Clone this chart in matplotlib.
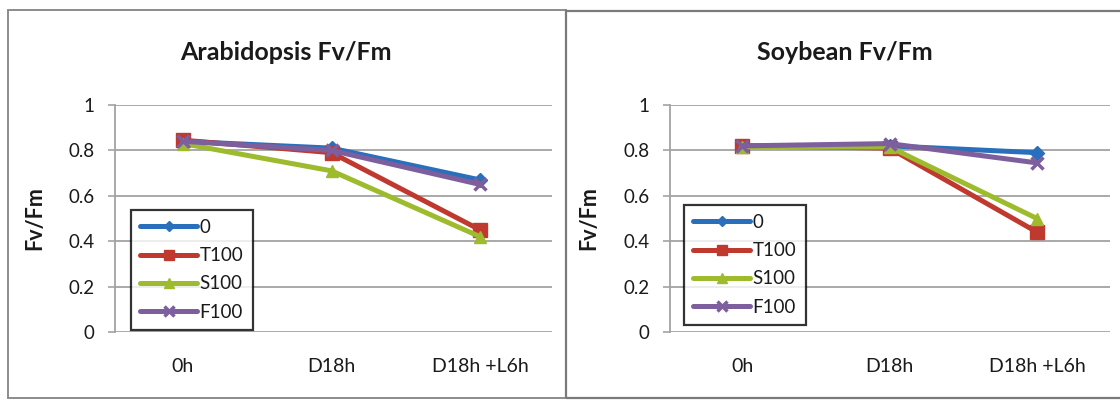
import matplotlib
matplotlib.use("Agg")
import matplotlib.pyplot as plt
from matplotlib.patches import Rectangle

plt.rcParams['font.family'] = ['Lato', 'DejaVu Sans']

# Data
categories = ["0h", "D18h", "D18h +L6h"]
series_names = ["0", "T100", "S100", "F100"]
arabidopsis = {
    "0":    [0.84, 0.81, 0.67],
    "T100": [0.845, 0.79, 0.45],
    "S100": [0.83, 0.71, 0.42],
    "F100": [0.84, 0.80, 0.65],
}
soybean = {
    "0":    [0.82, 0.82, 0.79],
    "T100": [0.82, 0.81, 0.44],
    "S100": [0.815, 0.815, 0.50],
    "F100": [0.82, 0.83, 0.745],
}
y_ticks = [0, 0.2, 0.4, 0.6, 0.8, 1]
y_tick_labels = ["0", "0.2", "0.4", "0.6", "0.8", "1"]
titles = ["Arabidopsis Fv/Fm", "Soybean Fv/Fm"]
y_label = "Fv/Fm"

colors = {"0": "#2a6fbb", "T100": "#c0392f", "S100": "#9dbb2c", "F100": "#7d5f9e"}
markers = {"0": "D", "T100": "s", "S100": "^", "F100": "x"}
msizes = {"0": 7, "T100": 10, "S100": 9, "F100": 9}

W, H = 1120, 400
fig = plt.figure(figsize=(W / 100, H / 100), dpi=100)
fig.patch.set_facecolor("white")


def px(x0, y0, x1, y1):
    """Pixel box (top-left origin) -> figure fraction rect."""
    return [x0 / W, 1 - y1 / H, (x1 - x0) / W, (y1 - y0) / H]


# Outer chart frames
fig.add_artist(Rectangle((8 / W, 1 - 398 / H), (566 - 8) / W, (398 - 10) / H,
                         transform=fig.transFigure, fill=False,
                         edgecolor="#8c8c8c", linewidth=1.4))
fig.add_artist(Rectangle((566 / W, 1 - 398 / H), (1130 - 566) / W, (398 - 11) / H,
                         transform=fig.transFigure, fill=False,
                         edgecolor="#7a7a7a", linewidth=1.6, clip_on=False))

panels = [
    dict(data=arabidopsis, box=(115, 105, 552, 332), cat_px=(183, 331, 480),
         legend_px=(131, 330), title_x=286, ylabel_x=45),
    dict(data=soybean, box=(670, 105, 1110, 332), cat_px=(742, 890, 1037),
         legend_px=(684, 325), title_x=845, ylabel_x=599),
]

for p, title in zip(panels, titles):
    x0, y0, x1, y1 = p["box"]
    ax = fig.add_axes(px(x0, y0, x1, y1))
    c0, c1, c2 = p["cat_px"]
    step = (c2 - c0) / 2
    ax.set_xlim((x0 - c0) / step, (x1 - c0) / step)
    ax.set_ylim(0, 1)
    ax.set_facecolor("none")

    xs = list(range(len(categories)))
    for name in series_names:
        ax.plot(xs, p["data"][name], color=colors[name], linewidth=3.6,
                marker=markers[name], markersize=msizes[name],
                markeredgewidth=2.5 if name == "F100" else 1,
                markeredgecolor=colors[name], label=name,
                solid_capstyle="round", zorder=3, clip_on=False)

    for yv in y_ticks:
        ax.axhline(yv, color="#a3a3a3", linewidth=1.3, zorder=1)

    for s in ["top", "right", "bottom"]:
        ax.spines[s].set_visible(False)
    ax.spines["left"].set_color("#a3a3a3")
    ax.spines["left"].set_linewidth(1.3)

    ax.set_yticks(y_ticks)
    ax.set_yticklabels(y_tick_labels)
    ax.set_xticks(xs)
    ax.set_xticklabels(categories)
    ax.tick_params(axis="y", length=5, width=1.2, color="#a3a3a3", pad=10,
                   labelsize=13.5, labelcolor="#1a1a1a")
    ax.tick_params(axis="x", length=0, pad=19, labelsize=14, labelcolor="#1a1a1a")

    ax.set_ylabel(y_label, fontsize=15.5, fontweight="bold", color="#1a1a1a")
    ax.yaxis.set_label_coords((p["ylabel_x"] - x0) / (x1 - x0), 0.5)

    lx, ly = p["legend_px"]
    leg = ax.legend(loc="lower left",
                    bbox_to_anchor=((lx - x0) / (x1 - x0), (y1 - ly) / (y1 - y0)),
                    borderaxespad=0, frameon=True, fancybox=False,
                    fontsize=13.5, handlelength=3.0, handletextpad=0.15,
                    labelspacing=0.6, borderpad=0.5, markerscale=0.75)
    leg.get_frame().set_edgecolor("black")
    leg.get_frame().set_linewidth(1.6)
    for t in leg.get_texts():
        t.set_color("#1a1a1a")

    fig.text(p["title_x"] / W, 1 - 52 / H, title, ha="center", va="center",
             fontsize=18, fontweight="bold", color="#1a1a1a")

fig.savefig("out.png", dpi=100, facecolor="white")
